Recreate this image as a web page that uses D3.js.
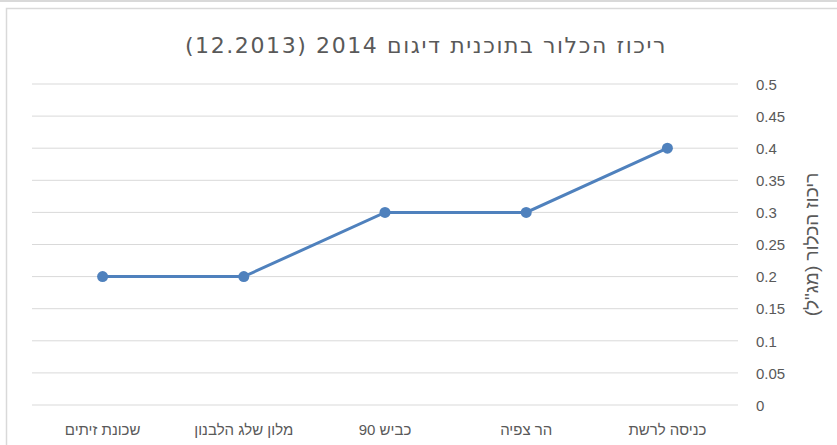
<!DOCTYPE html>
<html lang="he">
<head>
    <meta charset="utf-8"/>
    <title>ריכוז הכלור</title>
    <script src="https://d3js.org/d3.v7.min.js"></script>
    <style>
        body {
            margin: 0;
            background: #fff;
            font-family: 'Liberation Sans', Arial, sans-serif;
        }

        svg {
            display: block;
        }

        text {
            fill: #595959;
        }

        text.title {
            font-family: 'DejaVu Sans', sans-serif;
            font-size: 22px;
            letter-spacing: 1.6px;
        }

        .tick text {
            font-size: 15px;
        }

        text.label {
            font-size: 19px;
        }

        .grid line {
            stroke: #d9d9d9;
        }

        .domain {
            display: none;
        }

        .series {
            fill: none;
            stroke: #4f81bd;
            stroke-width: 3;
        }

        .dot {
            fill: #4f81bd;
        }
    </style>
</head>
<body>
<svg width="837" height="445"></svg>

<script>
    // categories are listed left to right as they appear
    const categories = ['שכונת זיתים', 'מלון שלג הלבנון', 'כביש 90', 'הר צפיה', 'כניסה לרשת'];
    const chlorine = [0.2, 0.2, 0.3, 0.3, 0.4];
    const yTicks = [0, 0.05, 0.1, 0.15, 0.2, 0.25, 0.3, 0.35, 0.4, 0.45, 0.5];
    const yTickLabels = ['0', '0.05', '0.1', '0.15', '0.2', '0.25', '0.3', '0.35', '0.4', '0.45', '0.5'];

    const data = categories.map((c, i) => ({name: c, value: chlorine[i]}));

    const svg = d3.select('svg');

    // outer frame (spreadsheet chart area)
    svg.append('rect')
        .attr('x', 0).attr('y', 0).attr('width', 837).attr('height', 2)
        .attr('fill', '#d9d9d9');
    svg.append('rect')
        .attr('x', 6.5).attr('y', 8.5).attr('width', 840).attr('height', 450)
        .attr('fill', 'none')
        .attr('stroke', '#d9d9d9')
        .attr('stroke-width', 1.5);

    const plot = {left: 32, right: 738, top: 84, bottom: 405};

    const x = d3.scaleBand()
        .domain(categories)
        .range([plot.left, plot.right]);

    const y = d3.scaleLinear()
        .domain([0, 0.5])
        .range([plot.bottom, plot.top]);

    // horizontal gridlines
    svg.append('g')
        .attr('class', 'grid')
        .selectAll('line')
        .data(yTicks)
        .join('line')
        .attr('x1', plot.left)
        .attr('x2', plot.right)
        .attr('y1', (d) => y(d))
        .attr('y2', (d) => y(d));

    // y axis on the right
    svg.append('g')
        .attr('transform', `translate(${plot.right}, 0)`)
        .call(d3.axisRight(y)
            .tickValues(yTicks)
            .tickSize(0)
            .tickPadding(18)
            .tickFormat((d, i) => yTickLabels[i]))
        .call((g) => g.selectAll('.tick text')
            .attr('font-family', null)
            .attr('font-size', null)
            .attr('dy', '0.35em'));

    // x axis
    svg.append('g')
        .attr('transform', `translate(0, ${plot.bottom})`)
        .call(d3.axisBottom(x).tickSize(0).tickPadding(19))
        .call((g) => g.selectAll('.tick text')
            .attr('font-family', null)
            .attr('font-size', null)
            .attr('direction', 'rtl'));

    const cx = (d) => x(d.name) + x.bandwidth() / 2;

    svg.append('path')
        .datum(data)
        .attr('class', 'series')
        .attr('d', d3.line().x(cx).y((d) => y(d.value)));

    svg.selectAll('.dot')
        .data(data)
        .join('circle')
        .attr('class', 'dot')
        .attr('cx', cx)
        .attr('cy', (d) => y(d.value))
        .attr('r', 5.5);

    svg.append('text')
        .attr('class', 'title')
        .attr('x', 426)
        .attr('y', 53)
        .attr('text-anchor', 'middle')
        .attr('direction', 'rtl')
        .text('ריכוז הכלור בתוכנית דיגום 2014 (12.2013)');

    svg.append('text')
        .attr('class', 'label')
        .attr('transform', `translate(811, ${(plot.top + plot.bottom) / 2}) rotate(-90)`)
        .attr('text-anchor', 'middle')
        .attr('dominant-baseline', 'central')
        .attr('direction', 'rtl')
        .text('ריכוז הכלור (מג"ל)');
</script>
</body>
</html>
